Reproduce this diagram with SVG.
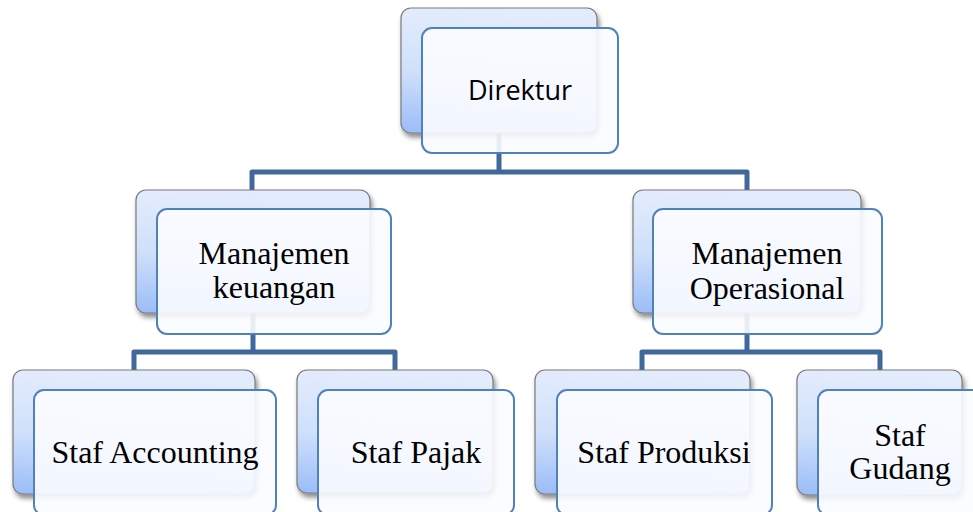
<svg xmlns="http://www.w3.org/2000/svg" width="973" height="512" viewBox="0 0 973 512">
<defs>
<linearGradient id="bg" x1="0.1" y1="0" x2="0" y2="1">
<stop offset="0" stop-color="#e3ecfc"/>
<stop offset="0.5" stop-color="#d0e0fb"/>
<stop offset="1" stop-color="#9bbcf8"/>
</linearGradient>
<filter id="sh" x="-10%" y="-10%" width="130%" height="130%">
<feDropShadow dx="2" dy="4" stdDeviation="2.5" flood-color="#000" flood-opacity="0.45"/>
</filter>
</defs>
<style>
.back{fill:url(#bg);stroke:#7a7a7a;stroke-width:1.2;filter:url(#sh)}
.front{fill:#fbfcff;fill-opacity:0.9;stroke:#4f81bd;stroke-width:2}
.conn{fill:none;stroke:#41689b;stroke-width:5;stroke-linejoin:round}
.t{font-family:"Liberation Serif","Times New Roman",serif;font-size:32px;fill:#000;text-anchor:middle}
.ts{font-family:"Open Sans","Noto Sans","Liberation Sans",sans-serif;font-size:27px;fill:#000;text-anchor:middle}
</style>
<rect width="973" height="512" fill="#fff"/>
<g id="connectors">
<path class="conn" d="M499 133V172M252 190V172H747V190"/>
<path class="conn" d="M253 313V352M134 370V352H395V370"/>
<path class="conn" d="M747 313V352M642 370V352H880V370"/>
</g>
<g id="direktur">
<rect class="back" x="401" y="8" width="196" height="125" rx="10"/>
<rect class="front" x="422" y="28" width="196" height="125" rx="10"/>
<text class="ts" x="520" y="100">Direktur</text>
</g>
<g id="manajemen-keuangan">
<rect class="back" x="136" y="190" width="234" height="123" rx="10"/>
<rect class="front" x="157" y="209" width="234" height="125" rx="10"/>
<text class="t" x="274" y="264">Manajemen</text>
<text class="t" x="274" y="298">keuangan</text>
</g>
<g id="manajemen-operasional">
<rect class="back" x="633" y="190" width="228" height="123" rx="10"/>
<rect class="front" x="653" y="209" width="229" height="125" rx="10"/>
<text class="t" x="767" y="264">Manajemen</text>
<text class="t" x="767" y="299">Operasional</text>
</g>
<g id="staf-accounting">
<rect class="back" x="13" y="370" width="242" height="124" rx="10"/>
<rect class="front" x="34" y="390" width="242" height="125" rx="10"/>
<text class="t" x="155" y="463">Staf Accounting</text>
</g>
<g id="staf-pajak">
<rect class="back" x="297" y="370" width="196" height="123" rx="10"/>
<rect class="front" x="318" y="390" width="196" height="125" rx="10"/>
<text class="t" x="416" y="463">Staf Pajak</text>
</g>
<g id="staf-produksi">
<rect class="back" x="535" y="370" width="215" height="124" rx="10"/>
<rect class="front" x="557" y="390" width="215" height="125" rx="10"/>
<text class="t" x="664" y="463">Staf Produksi</text>
</g>
<g id="staf-gudang">
<rect class="back" x="797" y="370" width="165" height="125" rx="10"/>
<rect class="front" x="818" y="390" width="165" height="125" rx="10"/>
<text class="t" x="900" y="446">Staf</text>
<text class="t" x="900" y="479">Gudang</text>
</g>
</svg>
